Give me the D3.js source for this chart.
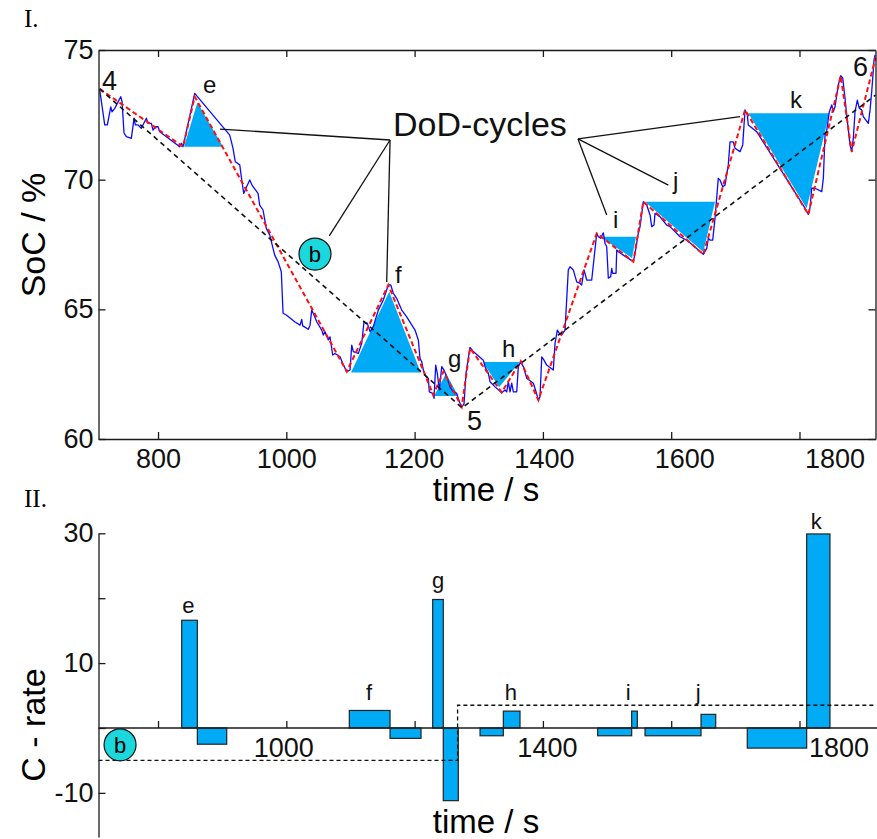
<!DOCTYPE html>
<html>
<head>
<meta charset="utf-8">
<script src="https://cdn.jsdelivr.net/npm/d3@7"></script>
<style>
  html, body { margin: 0; padding: 0; background: #fff; }
  svg { display: block; font-family: "Liberation Sans", Arial, sans-serif; }
</style>
</head>
<body>
<svg id="chart" width="877" height="839"></svg>
<script>
// ---- data ----
// measured SoC trace, [time s, SoC %]
const socTrace = [
  [709.1,73.46],[716.9,72.11],[721.0,72.11],[726.3,72.81],[728.3,72.62],[732.5,72.75],[741.9,73.20],[743.9,73.01],
  [747.0,71.80],[750.6,71.66],[758.4,71.59],[762.6,72.37],[764.6,72.11],[768.8,72.11],[774.0,71.98],[781.8,72.37],
  [784.4,72.17],[789.6,72.17],[792.2,71.91],[795.8,72.04],[800.0,72.04],[802.7,71.85],[833.8,71.27],[836.3,71.40],
  [839.0,71.27],[857.2,73.33],[911.8,71.72],[916.9,71.21],[920.5,70.69],[927.4,70.57],[930.9,69.92],[933.6,69.47],
  [937.2,69.68],[943.0,69.99],[946.5,69.79],[955.9,69.47],[958.5,69.02],[963.7,68.83],[968.8,68.12],[974.1,67.87],
  [979.3,67.35],[981.9,67.09],[987.1,66.84],[992.2,66.45],[994.9,64.85],[1000.0,64.78],[1013.1,64.52],[1021.4,64.39],
  [1024.0,64.61],[1025.6,64.36],[1034.3,64.23],[1037.0,64.39],[1039.6,64.97],[1043.2,64.78],[1047.4,64.52],[1055.2,64.20],
  [1057.7,64.01],[1060.3,64.14],[1065.5,63.82],[1068.1,63.94],[1072.3,63.24],[1075.9,63.30],[1083.7,63.17],[1087.9,62.92],
  [1094.2,62.59],[1099.3,62.66],[1102.0,63.62],[1104.5,63.37],[1112.3,63.30],[1117.5,63.69],[1121.1,64.52],[1126.3,64.46],
  [1130.5,64.14],[1135.6,64.33],[1143.4,64.97],[1151.2,65.36],[1159.0,65.94],[1162.8,65.94],[1166.8,65.62],[1172.1,65.42],
  [1179.9,64.97],[1187.7,64.71],[1200.6,64.20],[1205.8,63.82],[1208.4,63.11],[1211.1,62.98],[1213.6,62.66],[1217.8,62.40],
  [1221.4,62.34],[1222.9,61.82],[1228.2,61.76],[1230.3,61.57],[1232.9,62.85],[1235.4,62.53],[1238.5,61.89],[1242.3,62.79],
  [1245.8,62.66],[1250.1,62.40],[1255.2,62.01],[1260.3,61.82],[1265.6,61.76],[1269.7,61.44],[1273.4,61.24],[1277.0,61.35],
  [1280.1,62.53],[1286.4,63.53],[1291.5,63.37],[1307.1,63.04],[1309.8,62.79],[1314.9,62.53],[1317.6,62.21],[1325.4,62.01],
  [1335.8,61.78],[1341.0,61.89],[1343.6,61.82],[1346.1,62.21],[1348.7,61.82],[1351.4,62.15],[1353.9,61.82],[1359.2,61.82],
  [1361.7,62.79],[1365.4,62.98],[1369.5,62.79],[1374.8,62.34],[1385.1,62.15],[1389.3,61.82],[1392.9,61.50],[1395.5,61.63],
  [1398.2,63.17],[1401.7,63.04],[1405.9,62.85],[1416.2,62.66],[1418.9,63.69],[1422.5,64.20],[1425.6,64.07],[1429.3,64.01],
  [1434.5,64.20],[1439.6,66.52],[1442.3,66.64],[1447.4,66.52],[1452.7,66.06],[1457.9,66.00],[1460.5,65.94],[1464.1,66.52],
  [1468.3,66.13],[1476.1,66.13],[1478.6,66.71],[1483.9,67.93],[1486.4,67.80],[1490.1,67.74],[1494.2,67.95],[1496.8,67.55],
  [1499.5,67.41],[1502.0,66.20],[1505.7,66.26],[1507.3,66.58],[1508.8,66.39],[1514.0,66.39],[1515.1,67.29],[1517.6,67.22],
  [1525.4,67.09],[1541.0,66.84],[1543.6,67.16],[1548.7,67.93],[1551.4,68.19],[1556.5,69.15],[1561.8,69.02],[1567.0,68.64],
  [1569.6,68.19],[1573.2,68.25],[1574.8,68.70],[1582.6,68.57],[1593.0,68.25],[1598.2,68.19],[1613.8,67.80],[1624.2,67.67],
  [1650.1,67.12],[1655.4,67.35],[1657.9,67.74],[1660.5,67.67],[1664.7,67.67],[1668.3,68.51],[1673.4,70.05],[1676.1,69.99],
  [1680.3,69.73],[1683.9,69.79],[1689.0,70.57],[1691.7,71.46],[1696.8,71.46],[1699.5,71.21],[1707.3,71.08],[1711.5,71.34],
  [1715.1,72.69],[1718.7,72.49],[1720.2,72.11],[1733.3,71.85],[1808.6,68.90],[1813.8,68.66],[1816.4,68.91],[1819.1,69.67],
  [1824.2,69.67],[1834.7,69.54],[1837.2,70.05],[1839.8,71.72],[1842.5,71.91],[1846.5,72.62],[1850.3,72.88],[1852.7,72.62],
  [1855.4,72.81],[1860.5,73.65],[1864.3,74.01],[1867.4,73.92],[1871.0,73.14],[1873.6,72.49],[1878.8,71.34],[1881.4,71.08],
  [1883.9,71.59],[1886.6,72.62],[1890.2,73.07],[1893.2,72.75],[1897.0,72.69],[1899.5,72.43],[1907.3,72.17],[1910.0,72.69],
  [1912.6,73.39],[1916.2,74.61],[1917.8,74.81]
];

// turning points (red dashed)
const turnPoints = [
  [709.1,73.50],[839.0,71.27],[857.2,73.2],[1094.2,62.6],[1159.0,65.94],[1229,61.7],[1245,62.6],[1273.4,61.24],
  [1286.4,63.5],[1335.8,61.8],[1365.4,63.0],[1392.9,61.5],[1483.9,67.93],[1541,66.84],[1556.5,69.15],[1650.1,67.12],
  [1715.1,72.69],[1813.8,68.66],[1864.3,74.0],[1881.4,71.08],[1918.5,74.7]
];

// large cycle 4-5-6 (black dashed)
const bigCycle = [[709.1,73.5],[1274,61.2],[1918.5,73.26]];

// DoD cycles
const cycleNames   = ['e', 'f', 'g', 'h', 'i', 'j', 'k'];
const cycleStart   = [840.5, 1100.9, 1230.3, 1306.6, 1489.0, 1559.2, 1720.2];
const cycleApex    = [861.3, 1160.4, 1249.0, 1331.6, 1538.9, 1650.1, 1811.2];
const cycleEnd     = [901.3, 1209.5, 1268.1, 1364.3, 1545.2, 1668.3, 1846.5];
const cycleLevel   = [71.27, 62.56, 61.66, 62.97, 67.80, 69.15, 72.56];
const cycleApexSoc = [72.98, 65.68, 62.53, 62.0, 66.98, 67.21, 68.90];

// C-rate blocks
const rateStart = [836.9, 861.3, 1098.2, 1161.7, 1228.2, 1244.7, 1302, 1338.3, 1485.4, 1538.4, 1559.2, 1646.5, 1718.6, 1811.2];
const rateEnd   = [861.3, 907.1, 1161.7, 1210, 1244.7, 1268.1, 1338.3, 1364.3, 1538.4, 1547.2, 1646.5, 1669.4, 1811.2, 1847.5];
const rateValue = [16.6, -2.5, 2.7, -1.6, 19.8, -11.2, -1.2, 2.6, -1.2, 2.6, -1.2, 2.1, -3.1, 29.9];

// mean C-rate of the big half cycles (dashed step)
const meanRate = [[707.2,-5.0],[1267,-5.0],[1267,3.5],[1918.5,3.5]];

// text annotations
const socLabels = [
  {text: '4', t: 712.7, v: 73.46, size: 27},
  {text: 'e', t: 870.2, v: 73.34, size: 24},
  {text: 'f', t: 1169.5, v: 66.01, size: 24},
  {text: 'g', t: 1252.1, v: 62.77, size: 24},
  {text: 'h', t: 1336.3, v: 63.17, size: 24},
  {text: '5', t: 1281.7, v: 60.35, size: 27},
  {text: 'i', t: 1509.3, v: 68.12, size: 24},
  {text: 'j', t: 1602.8, v: 69.64, size: 24},
  {text: 'k', t: 1785.2, v: 72.75, size: 24},
  {text: '6', t: 1883.4, v: 74.0, size: 27},
  {text: 'DoD-cycles', t: 1166.3, v: 71.68, size: 34}
];
const pointerHubs = [
  {hub: [1161.7,71.53], ends: [[896.6,71.95],[1067.0,67.83],[1156.5,66.05]]},
  {hub: [1454.7,71.57], ends: [[1707.3,72.43],[1595.5,69.79],[1499.5,68.64]]}
];
const rateLabelTime = [847.5, 1129, 1236.5, 1350, 1533, 1642, 1826];
const rateLabelRate = [17.7, 4.3, 21.6, 4.3, 4.3, 4.3, 30.7];

const xTicks = [800, 1000, 1200, 1400, 1600, 1800];
const socTicks = [60, 65, 70, 75];
const rateTicks = [30, 20, 10, 0, -10];
const rateTickLabels = [30, 10, -10];
const rateXLabels = [1000, 1400, 1800];

// ---- drawing ----
const svg = d3.select('#chart');
const width = 877;
const axisColor = '#1a1a1a';
const fillBlue = '#00aaf4';
const circleFill = '#1ad8dc';

const x = d3.scaleLinear().domain([707.2, 1918.5]).range([98.5, 875.5]);
const ySoc = d3.scaleLinear().domain([60, 75]).range([439, 50]);
const yRate = d3.scaleLinear().domain([-16.8, 30]).range([837, 533.3]);

const topNudge = {1200: -1, 1400: 1, 1600: 13, 1800: 35};
const botNudge = {1000: -3, 1400: 4, 1800: 39};

function styleAxis(g, size) {
  g.attr('font-family', null).attr('font-size', size);
  g.selectAll('path, line').attr('stroke', axisColor).attr('stroke-width', 1.3);
  g.selectAll('text').attr('fill', '#111');
}

// panel I
const panelTop = svg.append('g');

panelTop.append('text').attr('x', 24).attr('y', 27)
  .attr('font-family', '"Liberation Serif", "Times New Roman", serif')
  .attr('font-size', 25).text('I.');

panelTop.selectAll('path.cycle').data(cycleNames).enter().append('path')
  .attr('class', 'cycle')
  .attr('fill', fillBlue)
  .attr('d', (d, i) => d3.line()([
    [x(cycleStart[i]), ySoc(cycleLevel[i])],
    [x(cycleApex[i]), ySoc(cycleApexSoc[i])],
    [x(cycleEnd[i]), ySoc(cycleLevel[i])]
  ]) + 'Z');

const socLine = d3.line().x(d => x(d[0])).y(d => ySoc(d[1]));

panelTop.append('path').datum(socTrace)
  .attr('fill', 'none').attr('stroke', '#0a0aff').attr('stroke-width', 1.3)
  .attr('stroke-linejoin', 'round').attr('d', socLine);

panelTop.append('path').datum(turnPoints)
  .attr('fill', 'none').attr('stroke', '#ff1010').attr('stroke-width', 2)
  .attr('stroke-dasharray', '5,3').attr('d', socLine);

panelTop.append('path').datum(bigCycle)
  .attr('fill', 'none').attr('stroke', '#111').attr('stroke-width', 1.6)
  .attr('stroke-dasharray', '5,4').attr('d', socLine);

pointerHubs.forEach(p => {
  panelTop.selectAll(null).data(p.ends).enter().append('line')
    .attr('x1', x(p.hub[0])).attr('y1', ySoc(p.hub[1]))
    .attr('x2', d => x(d[0])).attr('y2', d => ySoc(d[1]))
    .attr('stroke', '#111').attr('stroke-width', 1.3);
});

const bTop = panelTop.append('g').attr('transform', `translate(${x(1044.7)},${ySoc(67.13)})`);
bTop.append('circle').attr('r', 16).attr('fill', circleFill).attr('stroke', '#111').attr('stroke-width', 1.2);
bTop.append('text').attr('text-anchor', 'middle').attr('y', 8).attr('font-size', 22).text('b');

panelTop.selectAll('text.lbl').data(socLabels).enter().append('text')
  .attr('class', 'lbl')
  .attr('x', d => x(d.t)).attr('y', d => ySoc(d.v))
  .attr('font-size', d => d.size).attr('fill', '#111')
  .text(d => d.text);

const xAxisTop = panelTop.append('g').attr('transform', `translate(0,${ySoc(60)})`)
  .call(d3.axisBottom(x).tickValues(xTicks).tickSizeInner(-7).tickSizeOuter(0).tickFormat(d3.format('d')));
styleAxis(xAxisTop, 27);
xAxisTop.selectAll('.tick text').attr('x', d => topNudge[d] || 0).attr('y', 29).attr('dy', 0);

const xAxisTop2 = panelTop.append('g').attr('transform', `translate(0,${ySoc(75)})`)
  .call(d3.axisTop(x).tickValues(xTicks).tickSizeInner(-7).tickSizeOuter(0).tickFormat(''));
styleAxis(xAxisTop2, 27);

const yAxisTop = panelTop.append('g').attr('transform', `translate(${x.range()[0]},0)`)
  .call(d3.axisLeft(ySoc).tickValues(socTicks).tickSizeInner(-7).tickSizeOuter(0).tickPadding(5));
styleAxis(yAxisTop, 27);

const yAxisTop2 = panelTop.append('g').attr('transform', `translate(${x.range()[1]},0)`)
  .call(d3.axisRight(ySoc).tickValues(socTicks).tickSizeInner(-7).tickSizeOuter(0).tickFormat(''));
styleAxis(yAxisTop2, 27);

panelTop.append('text').attr('x', 486).attr('y', 501).attr('text-anchor', 'middle')
  .attr('font-size', 33).text('time / s');
panelTop.append('text').attr('transform', 'translate(45,235) rotate(-90)').attr('text-anchor', 'middle')
  .attr('font-size', 34).text('SoC / %');

// panel II
const panelBot = svg.append('g');

panelBot.append('text').attr('x', 24).attr('y', 507)
  .attr('font-family', '"Liberation Serif", "Times New Roman", serif')
  .attr('font-size', 25).text('II.');

panelBot.selectAll('rect.rate').data(rateValue).enter().append('rect')
  .attr('class', 'rate')
  .attr('x', (d, i) => x(rateStart[i]))
  .attr('width', (d, i) => x(rateEnd[i]) - x(rateStart[i]))
  .attr('y', d => yRate(Math.max(0, d)))
  .attr('height', d => Math.abs(yRate(d) - yRate(0)))
  .attr('fill', fillBlue).attr('stroke', '#222').attr('stroke-width', 1.2);

panelBot.append('path').datum(meanRate)
  .attr('fill', 'none').attr('stroke', '#111').attr('stroke-width', 1.3)
  .attr('stroke-dasharray', '4,3')
  .attr('d', d3.line().x(d => x(d[0])).y(d => yRate(d[1])));

panelBot.selectAll('text.rl').data(cycleNames).enter().append('text')
  .attr('class', 'rl').attr('text-anchor', 'middle')
  .attr('x', (d, i) => x(rateLabelTime[i])).attr('y', (d, i) => yRate(rateLabelRate[i]))
  .attr('font-size', 22).attr('fill', '#111').text(d => d);

const xAxisBot = panelBot.append('g').attr('transform', `translate(0,${yRate(0)})`)
  .call(d3.axisBottom(x).tickValues(xTicks).tickSizeInner(-7).tickSizeOuter(0)
    .tickFormat(d => rateXLabels.includes(d) ? d3.format('d')(d) : ''));
styleAxis(xAxisBot, 27);
xAxisBot.select('.domain').remove();
xAxisBot.selectAll('.tick text').attr('x', d => botNudge[d] || 0).attr('y', 29).attr('dy', 0);
panelBot.append('line')
  .attr('x1', x.range()[0]).attr('x2', width)
  .attr('y1', yRate(0)).attr('y2', yRate(0))
  .attr('stroke', axisColor).attr('stroke-width', 1.3);

const yAxisBot = panelBot.append('g').attr('transform', `translate(${x.range()[0]},0)`)
  .call(d3.axisLeft(yRate).tickValues(rateTicks).tickSizeInner(-7).tickSizeOuter(0).tickPadding(5)
    .tickFormat(d => rateTickLabels.includes(d) ? String(d) : ''));
styleAxis(yAxisBot, 27);

const bBot = panelBot.append('g').attr('transform', `translate(${x(740.8)},${yRate(-2.6)})`);
bBot.append('circle').attr('r', 16).attr('fill', circleFill).attr('stroke', '#111').attr('stroke-width', 1.2);
bBot.append('text').attr('text-anchor', 'middle').attr('y', 8).attr('font-size', 22).text('b');

panelBot.append('text').attr('x', 486).attr('y', 833).attr('text-anchor', 'middle')
  .attr('font-size', 33).text('time / s');
panelBot.append('text').attr('transform', 'translate(45,725) rotate(-90)').attr('text-anchor', 'middle')
  .attr('font-size', 34).text('C - rate');
</script>
</body>
</html>
